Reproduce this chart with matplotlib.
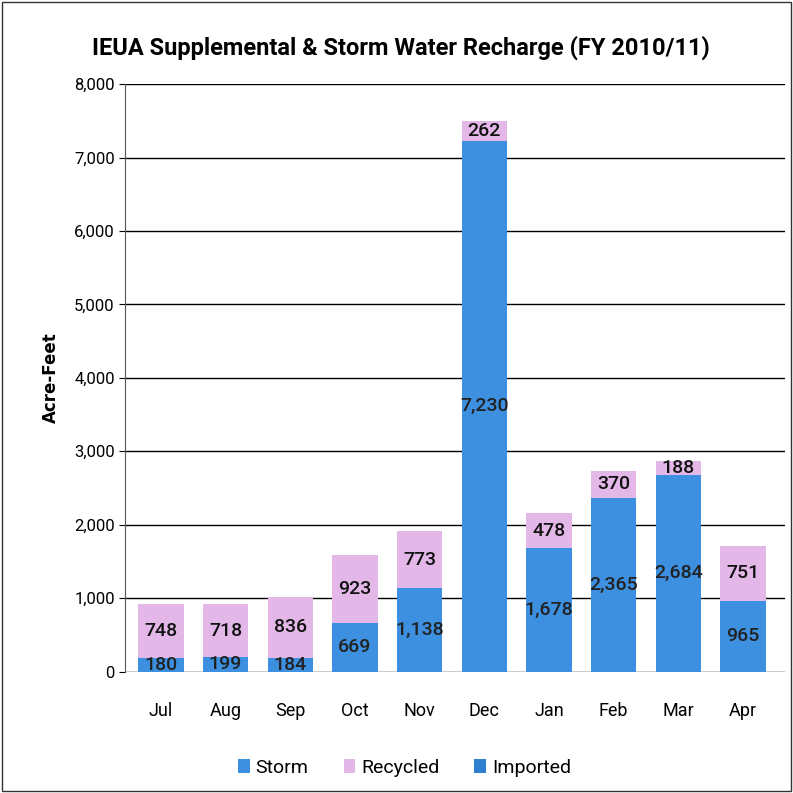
import numpy as np
import matplotlib.pyplot as plt
from matplotlib.patches import Rectangle

plt.rcParams['font.family'] = ['Roboto', 'DejaVu Sans']

months = ['Jul', 'Aug', 'Sep', 'Oct', 'Nov', 'Dec', 'Jan', 'Feb', 'Mar', 'Apr']
storm = [180, 199, 184, 669, 1138, 7230, 1678, 2365, 2684, 965]
recycled = [748, 718, 836, 923, 773, 262, 478, 370, 188, 751]
imported = [0, 0, 0, 0, 0, 0, 0, 0, 0, 0]

storm_color = '#3d8fe0'
recycled_color = '#e3b8e8'
imported_color = '#2f7fd0'

fig = plt.figure(figsize=(7.93, 7.93), dpi=100)
ax = fig.add_axes([0.158, 0.153, 0.832, 0.741])

x = np.arange(len(months))
w = 0.7
s = np.array(storm)
r = np.array(recycled)
im = np.array(imported)

b1 = ax.bar(x, s, w, color=storm_color, label='Storm', zorder=3)
b2 = ax.bar(x, r, w, bottom=s, color=recycled_color, label='Recycled', zorder=3)
b3 = ax.bar(x, im, w, bottom=s + r, color=imported_color, label='Imported', zorder=3)

for i in range(len(months)):
    ax.text(x[i], s[i] / 2, f'{storm[i]:,}', ha='center', va='center',
            fontsize=14, fontweight='medium', color='#222222', zorder=4)
    ax.text(x[i], s[i] + r[i] / 2, f'{recycled[i]:,}', ha='center', va='center',
            fontsize=14, fontweight='medium', color='#111111', zorder=4)

ax.set_ylim(0, 8000)
ax.set_xlim(-0.55, 9.65)
ax.set_yticks(range(0, 8001, 1000))
ax.set_yticklabels([f'{v:,}' for v in range(0, 8001, 1000)], fontsize=12)
ax.set_xticks(x)
ax.set_xticklabels(months, fontsize=13)
ax.yaxis.grid(True, color='black', linewidth=1.0, zorder=0)
for sp in ['top', 'right', 'bottom']:
    ax.spines[sp].set_visible(False)
ax.spines['left'].set_color('#555555')
ax.tick_params(axis='x', length=0, pad=22)
ax.tick_params(axis='y', length=4)
ax.set_ylabel('Acre-Feet', fontsize=12, fontweight='bold', family='DejaVu Sans', labelpad=10)

fig.suptitle('IEUA Supplemental & Storm Water Recharge (FY 2010/11)',
             x=0.505, y=0.955, fontsize=17, fontweight='bold')

fig.legend(handles=[b1, b2, b3], labels=['Storm', 'Recycled', 'Imported'],
           loc='center', bbox_to_anchor=(0.51, 0.032), ncol=3, frameon=False,
           fontsize=14, handlelength=0.6, handletextpad=0.3, columnspacing=1.8)

fig.patches.append(Rectangle((0.003, 0.003), 0.994, 0.994, transform=fig.transFigure,
                             fill=False, edgecolor='#333333', linewidth=1.0))

fig.savefig('out.png', dpi=100)
